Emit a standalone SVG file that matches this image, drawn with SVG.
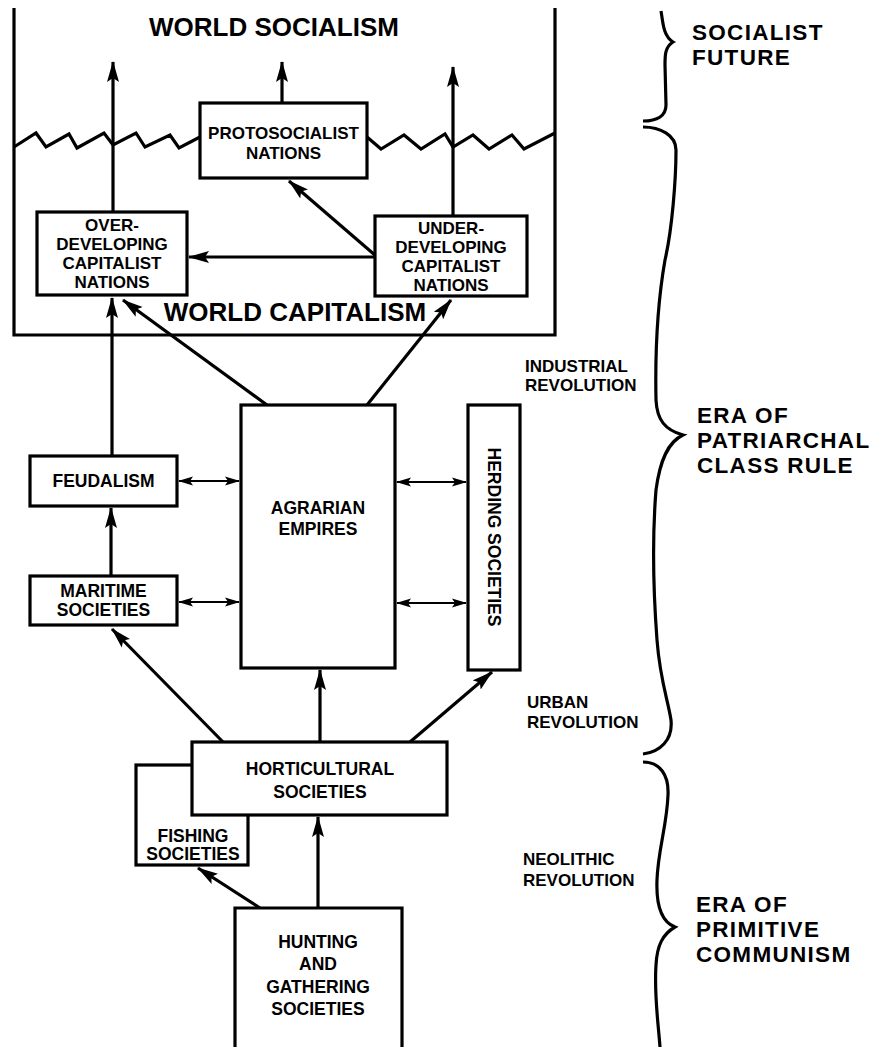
<svg xmlns="http://www.w3.org/2000/svg" width="881" height="1047" viewBox="0 0 881 1047">
<defs>
<marker id="ah" markerUnits="userSpaceOnUse" markerWidth="23" markerHeight="13" refX="20" refY="6.5" orient="auto"><path d="M0,0.5 L21,6.5 L0,12.5 L4,6.5 Z" fill="#000"/></marker>
<marker id="dh" markerUnits="userSpaceOnUse" markerWidth="16" markerHeight="10" refX="14" refY="5" orient="auto-start-reverse"><path d="M0,0.5 L15,5 L0,9.5 L3,5 Z" fill="#000"/></marker>
</defs>
<style>
.box{fill:#fff;stroke:#000;stroke-width:3.2}
.ln{fill:none;stroke:#000;stroke-width:3.2}
.ar{fill:none;stroke:#000;stroke-width:3.2;marker-end:url(#ah)}
.dl{fill:none;stroke:#000;stroke-width:2.2;marker-start:url(#dh);marker-end:url(#dh)}
text{font-family:"Liberation Sans",Arial,sans-serif;font-weight:bold;fill:#000}
.lb{font-size:17.5px;text-anchor:middle}
.sm{font-size:17px;text-anchor:middle}
.big{font-size:26px;text-anchor:middle}
.era{font-size:22.5px;letter-spacing:1.3px}
.rev{font-size:17px}
</style>
<rect width="881" height="1047" fill="#fff"/>

<g id="world-frame">
<path class="ln" d="M14,8 V335 H555 V8"/>
<text class="big" x="274" y="36">WORLD SOCIALISM</text>
<text class="big" x="295" y="321">WORLD CAPITALISM</text>
</g>

<g id="zigzag-boundary">
<polyline class="ln" points="14,147 36,133 46,147 69,134 77,148 104,133 113,145 136,133 145,147 170,135 179,148 200,137"/>
<polyline class="ln" points="367,137 381,149 404,135 421,149 445,134 453,147 473,135 489,149 512,135 524,149 555,133"/>
</g>

<g id="connectors">
<path class="ar" d="M113,212 V62"/>
<path class="ar" d="M282,103 V62"/>
<path class="ar" d="M453,216 V67"/>
<path class="ar" d="M375,257 H189"/>
<path class="ar" d="M376,256 L289,181"/>
<path class="ar" d="M112,456 V298"/>
<path class="ar" d="M267,405 L123,300"/>
<path class="ar" d="M367,405 L451,300"/>
<path class="dl" d="M179,481 H239"/>
<path class="dl" d="M179,602 H239"/>
<path class="dl" d="M397,482 H466"/>
<path class="dl" d="M397,603 H466"/>
<path class="ar" d="M111,576 V508"/>
<path class="ar" d="M223,742 L112,629"/>
<path class="ar" d="M320,742 V670"/>
<path class="ar" d="M410,742 L492,672"/>
<path class="ar" d="M318,908 V817"/>
<path class="ar" d="M260,908 L198,868"/>
</g>

<g id="protosocialist-nations">
<rect class="box" x="200" y="103" width="167" height="75"/>
<text class="sm" x="283.5" y="139">PROTOSOCIALIST</text>
<text class="sm" x="283.5" y="159">NATIONS</text>
</g>

<g id="overdeveloping-capitalist-nations">
<rect class="box" x="37" y="212" width="150" height="83"/>
<text class="sm" x="112" y="231">OVER-</text>
<text class="sm" x="112" y="250">DEVELOPING</text>
<text class="sm" x="112" y="269">CAPITALIST</text>
<text class="sm" x="112" y="288">NATIONS</text>
</g>

<g id="underdeveloping-capitalist-nations">
<rect class="box" x="375" y="216" width="152" height="80"/>
<text class="sm" x="451" y="234">UNDER-</text>
<text class="sm" x="451" y="253">DEVELOPING</text>
<text class="sm" x="451" y="272">CAPITALIST</text>
<text class="sm" x="451" y="291">NATIONS</text>
</g>

<g id="feudalism">
<rect class="box" x="30" y="456" width="147" height="50"/>
<text class="lb" x="103.5" y="487">FEUDALISM</text>
</g>

<g id="maritime-societies">
<rect class="box" x="30" y="576" width="147" height="49"/>
<text class="lb" x="103.5" y="597">MARITIME</text>
<text class="lb" x="103.5" y="616">SOCIETIES</text>
</g>

<g id="agrarian-empires">
<rect class="box" x="241" y="405" width="154" height="263"/>
<text class="lb" x="318" y="514">AGRARIAN</text>
<text class="lb" x="318" y="535">EMPIRES</text>
</g>

<g id="herding-societies">
<rect class="box" x="468" y="405" width="52" height="265"/>
<text class="lb" transform="translate(494,537) rotate(90)" x="0" y="6">HERDING SOCIETIES</text>
</g>

<g id="fishing-societies">
<rect class="box" x="136" y="765" width="112" height="100"/>
<text class="lb" x="193" y="842">FISHING</text>
<text class="lb" x="193" y="860">SOCIETIES</text>
</g>

<g id="horticultural-societies">
<rect class="box" x="192" y="742" width="255" height="73"/>
<text class="lb" x="320" y="775">HORTICULTURAL</text>
<text class="lb" x="320" y="798">SOCIETIES</text>
</g>

<g id="hunting-and-gathering-societies">
<path class="box" d="M235,1050 V908 H402 V1050"/>
<text class="lb" x="318" y="948">HUNTING</text>
<text class="lb" x="318" y="970">AND</text>
<text class="lb" x="318" y="993">GATHERING</text>
<text class="lb" x="318" y="1015">SOCIETIES</text>
</g>

<g id="revolutions">
<text class="rev" x="525" y="372">INDUSTRIAL</text>
<text class="rev" x="525" y="391">REVOLUTION</text>
<text class="rev" x="527" y="708">URBAN</text>
<text class="rev" x="527" y="728">REVOLUTION</text>
<text class="rev" x="523" y="865">NEOLITHIC</text>
<text class="rev" x="523" y="886">REVOLUTION</text>
</g>

<g id="eras">
<path class="ln" d="M661,11 C663,22 663,36 673,42 C665,47 665,55 665,65 L666,105 C666,116 657,121 643,121"/>
<path class="ln" d="M643,127 C660,127 676,135 676,150 C676,180 672,230 665,260 C658,300 655,350 656,400 C657,420 665,430 683,435 C668,442 660,460 656,490 C652,540 654,600 657,640 C660,680 668,700 671,720 C673,740 660,752 643,754"/>
<path class="ln" d="M643,762 C660,762 669,775 668,795 C667,825 658,850 657,880 C656,905 662,922 675,927 C663,934 657,945 656,965 C654,995 658,1020 660,1047"/>
<text class="era" x="692" y="40">SOCIALIST</text>
<text class="era" x="692" y="65">FUTURE</text>
<text class="era" x="697" y="423">ERA OF</text>
<text class="era" x="697" y="448">PATRIARCHAL</text>
<text class="era" x="697" y="473">CLASS RULE</text>
<text class="era" x="696" y="912">ERA OF</text>
<text class="era" x="696" y="937">PRIMITIVE</text>
<text class="era" x="696" y="962">COMMUNISM</text>
</g>
</svg>
